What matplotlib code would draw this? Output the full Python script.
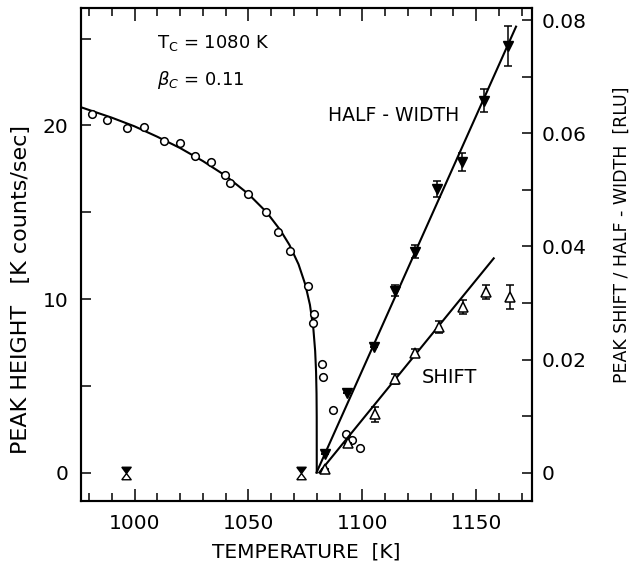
import matplotlib
matplotlib.use("Agg")
import matplotlib.pyplot as plt
from matplotlib.ticker import MultipleLocator, FuncFormatter

# peak height, open circles [K counts/sec]
temp_h = [981.2, 987.7, 996.8, 1004.1, 1013.1, 1020.1, 1026.7, 1033.6, 1039.7,
          1042.0, 1049.8, 1057.6, 1062.9, 1068.3, 1076.3, 1078.8, 1078.5,
          1082.4, 1082.6, 1087.0, 1092.8, 1095.3, 1098.9]
height = [20.66, 20.32, 19.87, 19.90, 19.09, 19.01, 18.26, 17.90, 17.16,
          16.70, 16.03, 15.01, 13.86, 12.78, 10.75, 9.12, 8.63,
          6.24, 5.49, 3.60, 2.22, 1.87, 1.39]

# fitted curve for the peak height
curve_t = [976.5, 990, 1000, 1010, 1020, 1030, 1040, 1050, 1058, 1064, 1068,
           1072, 1075, 1077, 1078.5, 1079.3, 1079.7, 1079.9, 1079.98, 1080.0]
curve_h = [21.05, 20.45, 19.95, 19.35, 18.7, 17.95, 17.1, 16.05, 15.0, 13.97,
           13.12, 12.0, 10.82, 9.67, 8.3, 7.0, 5.8, 4.55, 3.2, 0.0]

# half-width, filled triangles [RLU]
temp_w = [1083.8, 1093.3, 1105.2, 1114.2, 1123.0, 1132.7, 1143.8, 1153.6, 1163.8]
width = [0.0032, 0.0140, 0.0223, 0.0322, 0.0391, 0.0501, 0.0549, 0.0658, 0.0755]
width_err = [0, 0, 0, 0.0010, 0.0012, 0.0014, 0.0016, 0.0020, 0.0035]

# peak shift, open triangles [RLU]
temp_s = [1083.6, 1093.8, 1105.4, 1114.2, 1123.3, 1133.5, 1144.1, 1154.3, 1164.9]
shift = [0.0006, 0.0053, 0.0103, 0.0165, 0.0211, 0.0258, 0.0293, 0.0319, 0.0311]
shift_err = [0, 0, 0.0013, 0.0009, 0.0007, 0.0011, 0.0012, 0.0012, 0.0021]

# below Tc both half-width and shift are zero
temp_zero = [996.1, 1072.9]
zero = [0, 0]

# straight lines through half-width and shift
hw_line_t = [1079.9, 1167.5]
hw_line = [0.0, 0.0789]
sh_line_t = [1081.1, 1157.7]
sh_line = [0.0, 0.0379]

plt.rcParams['font.family'] = ['DejaVu Sans']
plt.rcParams['mathtext.default'] = 'regular'

fig = plt.figure(figsize=(6.34, 5.66), dpi=100)
ax = fig.add_axes([0.1278, 0.1148, 0.7113, 0.8711])
ax2 = ax.twinx()

ax.plot(curve_t, curve_h, color='black', lw=1.5)
ax.plot(temp_h, height, 'o', ms=5.5, mfc='white', mec='black', mew=1.1)

ax2.plot(hw_line_t, hw_line, color='black', lw=1.5)
ax2.plot(sh_line_t, sh_line, color='black', lw=1.5)
ax2.errorbar(temp_w, width, yerr=width_err, fmt='v', ms=7.5, color='black',
             ecolor='black', elinewidth=1.1, capsize=3, capthick=1.1)
ax2.errorbar(temp_s, shift, yerr=shift_err, fmt='^', ms=7.5, mfc='white',
             mec='black', mew=1.1, ecolor='black', elinewidth=1.1,
             capsize=3, capthick=1.1)

# hourglass: filled down-triangle on top of open up-triangle, apex at zero
top_half = [(-0.75, 1), (0.75, 1), (0, 0), (-0.75, 1)]
low_half = [(-0.75, -1), (0.75, -1), (0, 0), (-0.75, -1)]
ax2.plot(temp_zero, zero, ls='none', marker=top_half, ms=9, color='black')
ax2.plot(temp_zero, zero, ls='none', marker=low_half, ms=9, mfc='white',
         mec='black', mew=1.0)

ax.set_xlim(976.5, 1174.5)
ax.set_ylim(-1.64, 26.77)
ax2.set_ylim(-0.00504, 0.0822)

ax.xaxis.set_major_locator(MultipleLocator(50))
ax.xaxis.set_minor_locator(MultipleLocator(10))
ax.yaxis.set_major_locator(MultipleLocator(5))
ax.yaxis.set_major_formatter(FuncFormatter(lambda v, p: '%d' % v if v % 10 == 0 else ''))
ax2.yaxis.set_major_locator(MultipleLocator(0.01))
ax2.yaxis.set_major_formatter(FuncFormatter(
    lambda v, p: ('0' if abs(v) < 1e-9 else '%.2f' % v) if round(v * 100) % 2 == 0 else ''))

ax.tick_params(axis='x', which='both', direction='in', top=True, labelsize=14.5, pad=9)
ax.tick_params(axis='x', which='major', length=9, width=1.1)
ax.tick_params(axis='x', which='minor', length=6, width=1.1)
ax.tick_params(axis='y', direction='in', length=7, width=1.1, labelsize=14.5, pad=9)
ax2.tick_params(axis='y', direction='in', length=7, width=1.1, labelsize=14.5, pad=7)

for a in (ax, ax2):
    for s in a.spines.values():
        s.set_linewidth(1.5)

ax.set_xlabel('TEMPERATURE  [K]', fontsize=14.5, labelpad=7)
ax.set_ylabel('PEAK HEIGHT   [K counts/sec]', fontsize=16)
ax.yaxis.set_label_coords(-0.11, 0.43)
ax2.set_ylabel('PEAK SHIFT / HALF - WIDTH  [RLU]', fontsize=12.5)
ax2.yaxis.set_label_coords(1.18, 0.54)

ax.text(0.1685, 0.929, 'T$_C$ = 1080 K', transform=ax.transAxes,
        fontsize=13, va='center')
ax.text(0.1685, 0.854, r'$\it{\beta}_C$ = 0.11', transform=ax.transAxes,
        fontsize=13, va='center')
ax.text(0.548, 0.781, 'HALF - WIDTH', transform=ax.transAxes,
        fontsize=13.5, va='center')
ax.text(0.756, 0.2515, 'SHIFT', transform=ax.transAxes,
        fontsize=14, va='center')

plt.savefig('out.png', dpi=100)
